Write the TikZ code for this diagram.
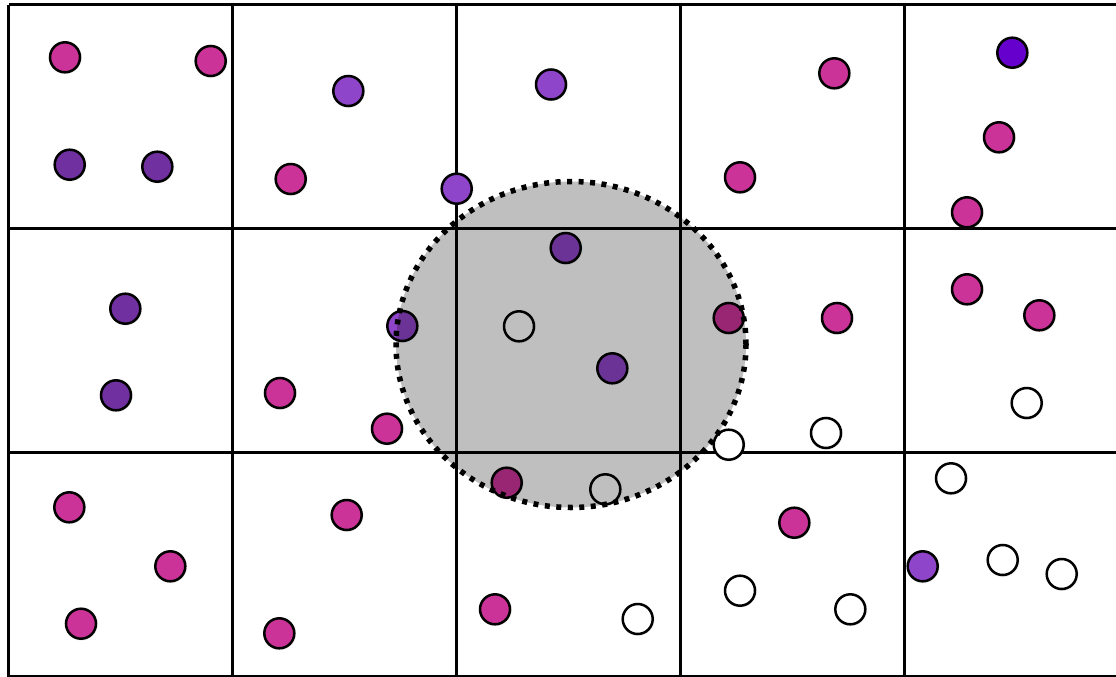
\documentclass[tikz,border=0pt]{standalone}
\usepackage{tikz}
\usetikzlibrary{shadows}

\definecolor{dotmag}{RGB}{204,51,153}
\definecolor{dotpurple}{RGB}{112,48,160}
\definecolor{dotlilac}{RGB}{143,69,201}
\definecolor{dotviolet}{RGB}{102,0,204}

\begin{document}
\begin{tikzpicture}[x=1pt, y=-1pt,
    dot/.style={circle, draw, line width=2.5pt, minimum size=30pt, inner sep=0pt,
      circular drop shadow={shadow xshift=0pt, shadow yshift=0pt, shadow scale=1.14, opacity=0.3}}]
  \useasboundingbox (0,0) rectangle (1116,677);
  \clip (0,0) rectangle (1116,677);

  % grid of cells
  \foreach \x in {8.5,232.5,456.5,680.5,904.5}
    \draw[line width=2.6pt] (\x,4.7) -- (\x,690);
  \foreach \y in {4.7,228.7,452.7,676.7}
    \draw[line width=2.6pt] (8.5,\y) -- (1130,\y);

  % points
  \foreach \px/\py [count=\i] in {65/57.3, 210.7/61, 290.7/179, 834.3/73.3, 740/177.3,
      999/137.3, 967/212.3, 280/393, 387/428.7, 728.7/318, 837/318, 967/289.3,
      1039.3/315.3, 69.3/507.3, 170.3/566.3, 81/623.7, 346.7/515, 279.3/633.3,
      506.7/482.7, 495/609.3, 794.3/522.7}
    \node[dot, fill=dotmag] (mag\i) at (\px,\py) {};
  \foreach \px/\py [count=\i] in {69.7/164.7, 157.3/166.7, 125.3/308.7, 116/395.3}
    \node[dot, fill=dotpurple] (pur\i) at (\px,\py) {};
  \foreach \px/\py [count=\i] in {348.3/91, 456.7/188.7, 551/84.5, 402.3/326, 922.7/566.3,
      565.7/248, 612.3/368.3}
    \node[dot, fill=dotlilac] (lil\i) at (\px,\py) {};
  \node[dot, fill=dotviolet] (vio1) at (1012.3,52.7) {};
  \foreach \px/\py [count=\i] in {519/326.3, 605.3/489.3, 728.7/444.7, 826/433,
      1026.7/403, 637.7/619, 740/590.7, 850.3/609.3, 951/478.3, 1002.7/560, 1061.7/574}
    \node[dot, fill=white] (wht\i) at (\px,\py) {};

  % query range
  \fill[black, opacity=0.25] (571,344.5) ellipse [x radius=175pt, y radius=163pt];
  \draw[line width=5.5pt, dash pattern=on 5pt off 6.5pt] (571,344.5) ellipse [x radius=175pt, y radius=163pt];
\end{tikzpicture}
\end{document}
